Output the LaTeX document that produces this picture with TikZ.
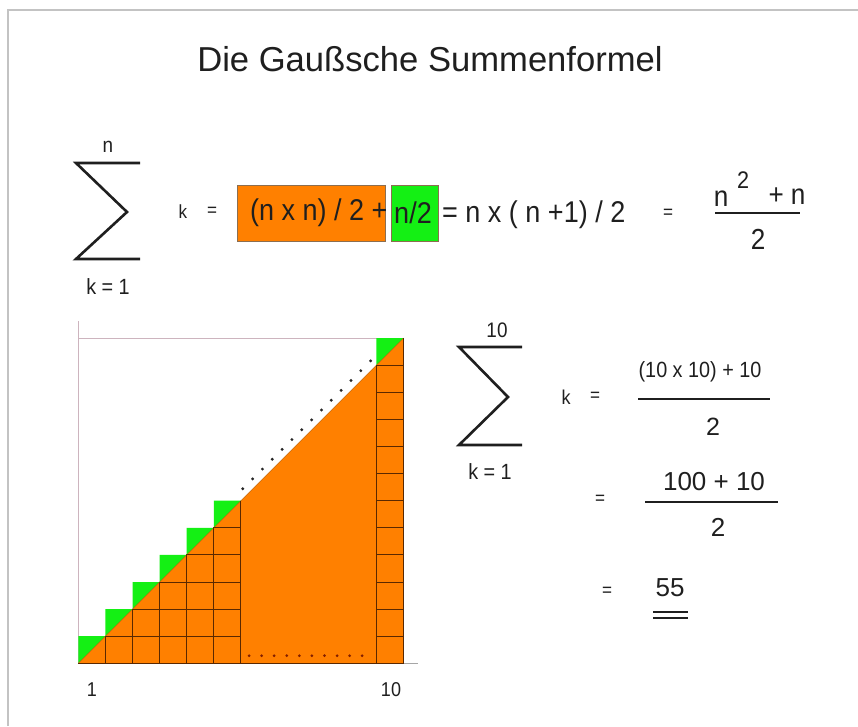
\documentclass[tikz,border=0pt]{standalone}
\usepackage{fontspec}
\setmainfont{Liberation Sans}
\newfontfamily\nf[FakeStretch=0.9]{Liberation Sans}
\definecolor{gauorange}{RGB}{255,128,0}
\definecolor{gaugreen}{RGB}{20,240,20}
\definecolor{gridbrown}{RGB}{90,40,0}
\definecolor{framegray}{RGB}{195,195,195}
\definecolor{axispink}{RGB}{205,180,190}
\definecolor{boxedge}{RGB}{140,110,80}
\definecolor{dotred}{RGB}{130,30,0}
\newcommand\gfs[1]{\fontsize{#1}{#1}\selectfont}
\begin{document}
\begin{tikzpicture}[x=1pt,y=-1pt,
  txt/.style={inner sep=0pt, anchor=center, text=black!88},
  sig/.style={line width=2.6pt, line join=miter, black!88},
  fbar/.style={line width=2.4pt, black!88},
  cell/.style={fill=gauorange, draw=gridbrown, line width=1pt},
  gridl/.style={draw=gridbrown, line width=1pt},
  diagl/.style={draw=gauorange!70!black, line width=0.5pt},
  axisl/.style={draw=axispink, line width=1pt},
  framel/.style={draw=framegray, line width=1.6pt},
  obox/.style={fill=gauorange, draw=boxedge, line width=0.6pt},
  gbox/.style={fill=gaugreen, draw=boxedge, line width=0.6pt}]
\useasboundingbox (0,0) rectangle (858,726);
\fill[white] (0,0) rectangle (858,726);
% frame
\draw[framel] (8,726) -- (8,10) -- (858,10);
% title
\node[txt, font=\gfs{34.6}] (title) at (430,59) {Die Gaußsche Summenformel};
% upper sum
\node[txt, font=\nf\gfs{21}] (sn) at (108,147) {n};
\draw[sig] (140,163) -- (76,163) -- (127,212) -- (76,259) -- (140,259);
\node[txt, font=\nf\gfs{22}] (sk) at (108,287) {k = 1};
\node[txt, font=\nf\gfs{19}] (k1) at (183,212) {k};
\node[txt, font=\nf\gfs{19}] (eq1) at (212,212) {=};
\node[obox, minimum width=148pt, minimum height=56pt, inner sep=0pt] (ob) at (311,213) {};
\node[gbox, minimum width=47pt, minimum height=56pt, inner sep=0pt] (gb) at (414.5,213) {};
\node[txt, anchor=west, font=\nf\gfs{30}] (ot) at (250,213) {(n x n) / 2 +};
\node[txt, font=\nf\gfs{30}] (gt) at (413,213) {n/2};
\node[txt, anchor=west, font=\nf\gfs{30}] (rt) at (442,215) {= n x ( n +1) / 2};
\node[txt, font=\nf\gfs{19}] (eq2) at (668,214) {=};
\node[txt, font=\nf\gfs{29}] (nn) at (721,199) {n};
\node[txt, font=\nf\gfs{24}] (n2) at (743,180) {2};
\node[txt, font=\nf\gfs{29}] (pn) at (787,196) {+ n};
\draw[fbar] (715,213) -- (800,213);
\node[txt, font=\nf\gfs{29}] (d1) at (758,239) {2};
% grid
\draw[axisl] (78.3,321) -- (78.3,663.3);
\draw[axisl] (78.3,338.1) -- (403.5,338.1);
\draw[draw=gray!70, line width=1pt] (78.3,663.3) -- (418,663.3);
\begin{scope}[shift={(78.3,663.3)}, x=27.1pt, y=27.1pt]
  \foreach \i in {1,...,6,12} {
    \fill[gaugreen] (\i-1,\i-1) -- (\i-1,\i) -- (\i,\i) -- cycle;
    \fill[gauorange] (\i-1,\i-1) -- (\i,\i-1) -- (\i,\i) -- cycle;
  }
  \foreach \i in {2,...,6,12} {
    \pgfmathtruncatemacro\m{\i-1}
    \foreach \j in {1,...,\m} {
      \draw[cell] (\i-1,\j-1) rectangle (\i,\j);
    }
  }
  \fill[gauorange] (6,0) -- (11,0) -- (11,11) -- (6,6) -- cycle;
  \draw[diagl] (0,0) -- (12,12);
  \foreach \i in {1,...,6,12} {
    \draw[gridl] (\i-1,\i-1) -- (\i,\i-1) -- (\i,\i);
  }
  \draw[gridl] (6,6) -- (6,0) -- (11,0) -- (11,11);
  \foreach \t in {0,...,13} {
    \fill[black!85] (6.07+\t*0.363, 6.44+\t*0.363) circle (1.6pt);
  }
  \foreach \t in {0,...,9} {
    \fill[dotred] (6.3+\t*0.464, 0.28) circle (1.5pt);
  }
\end{scope}
\node[txt, font=\nf\gfs{20}] (l1) at (92,690) {1};
\node[txt, font=\nf\gfs{20}] (l10) at (391,690) {10};
% lower sum
\node[txt, font=\nf\gfs{21}] (tn) at (497,330) {10};
\draw[sig] (522,347) -- (459,347) -- (508,397) -- (459,445) -- (522,445);
\node[txt, font=\nf\gfs{22}] (tk) at (490,472) {k = 1};
\node[txt, font=\nf\gfs{20}] (k2) at (566,397) {k};
\node[txt, font=\nf\gfs{19}] (eq3) at (595,397) {=};
\node[txt, font=\nf\gfs{22}] (f1n) at (700,372) {(10 x 10) + 10};
\draw[fbar] (638,399) -- (770,399);
\node[txt, font=\gfs{25}] (f1d) at (713,427) {2};
\node[txt, font=\nf\gfs{19}] (eq4) at (600,500) {=};
\node[txt, font=\gfs{26}] (f2n) at (714,482) {100 + 10};
\draw[fbar] (645,502) -- (778,502);
\node[txt, font=\gfs{26}] (f2d) at (718,527) {2};
\node[txt, font=\nf\gfs{19}] (eq5) at (607,592) {=};
\node[txt, font=\gfs{26}] (r55) at (670,588) {55};
\draw[line width=2pt, black!88] (653,612) -- (688,612);
\draw[line width=2pt, black!88] (653,618) -- (688,618);
\end{tikzpicture}
\end{document}
